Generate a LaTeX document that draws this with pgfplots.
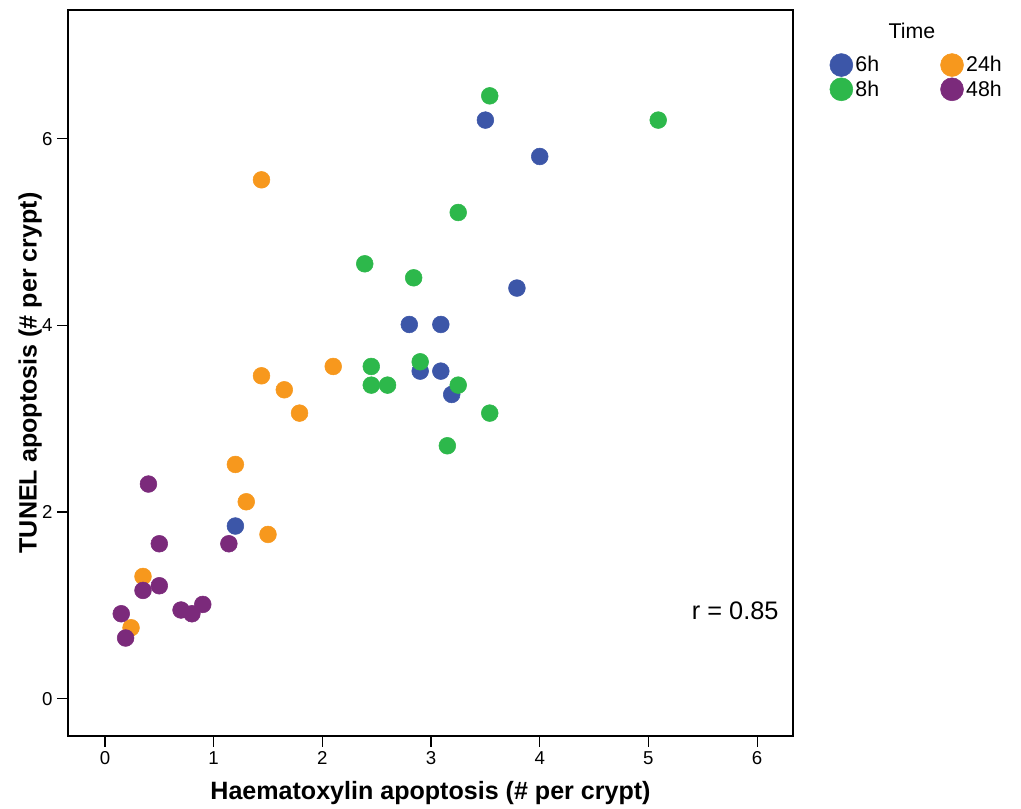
\documentclass[border=0pt]{standalone}
\usepackage{fontspec}
\setmainfont{Liberation Sans}
\usepackage{pgfplots}
\pgfplotsset{compat=1.18}
\definecolor{c6}{HTML}{3C56A8}
\definecolor{c8}{HTML}{2DB84B}
\definecolor{c24}{HTML}{F7981D}
\definecolor{c48}{HTML}{7B2A7B}
\begin{document}
\begin{tikzpicture}
\begin{axis}[
  name=ax,
  scale only axis,
  clip=false,
  width=543.75pt, height=544.5pt,
  xmin=-0.34, xmax=6.33, ymin=-0.40, ymax=7.38,
  xtick={0,1,2,3,4,5,6}, ytick={0,2,4,6},
  tick align=outside, major tick length=8pt,
  tick style={line width=0.9pt, black},
  axis line style={line width=1.1pt},
  xtick pos=bottom, ytick pos=left,
  /pgf/number format/assume math mode=true,
  xticklabel={\fontsize{14}{16}\selectfont\pgfmathprintnumber{\tick}},
  yticklabel={\fontsize{14}{16}\selectfont\pgfmathprintnumber{\tick}},
  xlabel={\textbf{Haematoxylin apoptosis (\# per crypt)}},
  ylabel={\textbf{TUNEL apoptosis (\# per crypt)}},
  label style={font=\fontsize{18.8}{22}\selectfont},
  xlabel style={yshift=-6pt},
  ylabel style={yshift=-6.5pt},
  legend columns=2,
  legend cell align=left,
  legend style={at={(1.045,0.944)}, anchor=north west, draw=none, fill=none,
    font=\fontsize{16}{18}\selectfont, row sep=1pt,
    /tikz/every even column/.append style={column sep=44pt}},
]
\addlegendimage{only marks, mark=*, mark size=8.6pt, color=c6}
\addlegendentry{6h}
\addlegendimage{only marks, mark=*, mark size=8.6pt, color=c24}
\addlegendentry{24h}
\addlegendimage{only marks, mark=*, mark size=8.6pt, color=c8}
\addlegendentry{8h}
\addlegendimage{only marks, mark=*, mark size=8.6pt, color=c48}
\addlegendentry{48h}

\addplot[forget plot, only marks, mark=*, mark size=6.3pt, color=c6] coordinates {
(3.50,6.20) (4.00,5.81) (3.79,4.40) (2.80,4.01) (3.09,4.01)
(2.90,3.51) (3.09,3.51) (3.19,3.26) (1.20,1.85)};
\addplot[forget plot, only marks, mark=*, mark size=6.3pt, color=c8] coordinates {
(3.54,6.46) (5.09,6.20) (3.25,5.21) (2.39,4.66) (2.84,4.51)
(2.90,3.61) (2.45,3.56) (2.45,3.36) (2.60,3.36) (3.25,3.36)
(3.54,3.06) (3.15,2.71)};
\addplot[forget plot, only marks, mark=*, mark size=6.3pt, color=c24] coordinates {
(1.44,5.56) (2.10,3.56) (1.44,3.46) (1.65,3.31) (1.79,3.06)
(1.20,2.51) (1.30,2.11) (1.50,1.76) (0.35,1.31) (0.24,0.76)};
\addplot[forget plot, only marks, mark=*, mark size=6.3pt, color=c48] coordinates {
(0.40,2.30) (0.50,1.66) (1.14,1.66) (0.50,1.21) (0.35,1.16)
(0.70,0.95) (0.80,0.91) (0.90,1.01) (0.15,0.91) (0.19,0.65)};

\node[anchor=east, font=\fontsize{19}{22}\selectfont] at (axis cs:6.24,0.94) {r = 0.85};
\node[font=\fontsize{16}{19}\selectfont] at (rel axis cs:1.164,0.971) {Time};
\end{axis}
\pgfresetboundingbox
\path (ax.south west) ++(-51pt,-54.75pt) rectangle ++(765.75pt,606.75pt);
\end{tikzpicture}
\end{document}
